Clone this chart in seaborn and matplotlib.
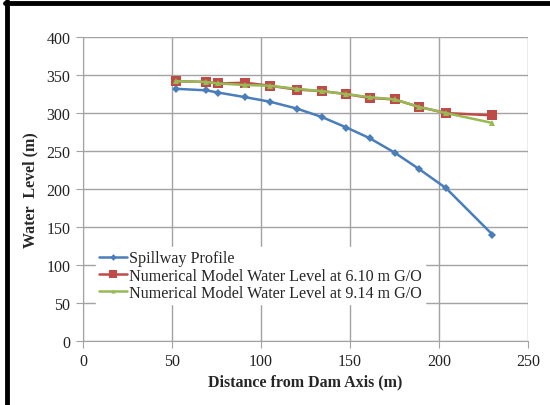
import numpy as np
import pandas as pd
import seaborn as sns
import matplotlib.pyplot as plt
from matplotlib.lines import Line2D

# distances from dam axis (m)
distance = [52, 69, 76, 91, 105, 120, 134, 148, 161, 175, 189, 204, 230]

spillway = [332, 330, 327, 321, 315, 306, 295, 281, 267, 248, 226, 201, 140]
level_610 = [342, 341, 339, 340, 336, 331, 329, 325, 320, 318, 308, 300, 297]
level_914 = [342, 341, 339, 337, 336, 332, 329, 325, 321, 318, 308, 300, 287]

series_names = ['Spillway Profile',
                'Numerical Model Water Level at 6.10 m G/O',
                'Numerical Model Water Level at 9.14 m G/O']

df = pd.DataFrame({
    'Distance': distance * 3,
    'Level': spillway + level_610 + level_914,
    'Series': [series_names[0]] * len(distance)
              + [series_names[1]] * len(distance)
              + [series_names[2]] * len(distance),
})

sns.set_style("white")
plt.rcParams['font.family'] = ['Liberation Serif', 'DejaVu Serif']

colors = {series_names[0]: '#4a7ebb', series_names[1]: '#be4b48', series_names[2]: '#98b954'}
markers = {series_names[0]: 'D', series_names[1]: 's', series_names[2]: '^'}
msizes = {series_names[0]: 4.5, series_names[1]: 7.5, series_names[2]: 4}

fig = plt.figure(figsize=(5.5, 4.06), dpi=100)
ax = fig.add_axes([0.151, 0.158, 0.809, 0.748])

for name in series_names:
    sub = df[df['Series'] == name]
    sns.lineplot(data=sub, x='Distance', y='Level', ax=ax, color=colors[name],
                 marker=markers[name], markersize=msizes[name], markeredgewidth=0,
                 linewidth=1.8, label=name, legend=False, zorder=3)

ax.set_xlim(0, 250)
ax.set_ylim(0, 400)
ax.set_xticks(np.arange(0, 251, 50))
ax.set_yticks(np.arange(0, 401, 50))
ax.grid(True, color='#a3a3a3', linewidth=1.0)
ax.set_axisbelow(True)
for side in ['top', 'right']:
    ax.spines[side].set_visible(False)
for side in ['left', 'bottom']:
    ax.spines[side].set_color('#a3a3a3')
ax.tick_params(axis='both', direction='out', length=5, color='#a3a3a3',
               labelsize=11.5, labelcolor='#222222', pad=4)
ax.tick_params(axis='both', which='both', left=True, bottom=True)
ax.set_xlabel('Distance from Dam Axis (m)', fontsize=11.5, fontweight='bold', labelpad=3)
ax.set_ylabel('Water  Level (m)', fontsize=11.5, fontweight='bold', labelpad=6)

handles = [Line2D([0], [0], color=colors[n], marker=markers[n], markersize=msizes[n] * 0.75,
                  markeredgewidth=0, linewidth=1.8) for n in series_names]
leg = ax.legend(handles, series_names, loc='lower left', bbox_to_anchor=(0.022, 0.11),
                frameon=True, fontsize=11.6, handlelength=1.75, handletextpad=0.1,
                labelspacing=0.08, borderaxespad=0.2, borderpad=0.2)
leg.get_frame().set_edgecolor('white')
leg.get_frame().set_facecolor('white')
leg.get_frame().set_alpha(1)
leg.get_frame().set_boxstyle('square', pad=0)

# chart frame: thick black top and left edges
fig.add_artist(Line2D([0.009, 1.0], [0.99, 0.99], color='black', linewidth=3.5))
fig.add_artist(Line2D([0.012, 0.012], [0.0, 0.995], color='black', linewidth=3.5))

fig.savefig('out.png', dpi=100)
